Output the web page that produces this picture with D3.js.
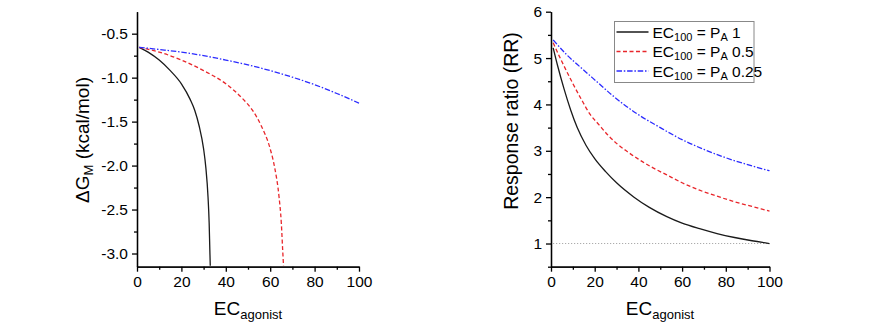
<!DOCTYPE html>
<html>
<head>
<meta charset="utf-8">
<script src="https://cdn.jsdelivr.net/npm/d3@7"></script>
<style>
  body { margin: 0; background: #fff; }
  svg text { font-family: "Liberation Sans", Arial, sans-serif; }
</style>
</head>
<body>
<div id="chart"></div>
<script>
// values
const xMajor = [0, 20, 40, 60, 80, 100];
const xMinor = [10, 30, 50, 70, 90];

// left panel: ΔG_M vs EC_agonist
const dgBlackX = [1, 5, 10, 15, 20, 24, 26, 28, 30, 31, 32, 32.5, 32.8, 33];
const dgBlackY = [-0.655, -0.71, -0.80, -0.92, -1.07, -1.25, -1.37, -1.55, -1.81, -2.02, -2.36, -2.65, -2.95, -3.14];
const dgRedX = [1, 10, 20, 30, 40, 48, 52, 56, 60, 62, 64, 65, 65.6, 66];
const dgRedY = [-0.655, -0.71, -0.80, -0.92, -1.07, -1.25, -1.37, -1.55, -1.81, -2.02, -2.36, -2.65, -2.95, -3.14];
const dgBlueX = [1, 10, 20, 30, 40, 50, 60, 70, 80, 90, 100];
const dgBlueY = [-0.655, -0.68, -0.71, -0.75, -0.80, -0.855, -0.92, -0.995, -1.08, -1.18, -1.29];
const dgMajor = [-0.5, -1.0, -1.5, -2.0, -2.5, -3.0];
const dgMinor = [-0.75, -1.25, -1.75, -2.25, -2.75];

// right panel: response ratio vs EC_agonist
const rrBlackX = [1, 3, 6, 9, 12, 16, 20, 25, 30, 38, 45, 53, 60, 68, 76, 84, 92, 100];
const rrBlackY = [5.22, 4.84, 4.33, 3.88, 3.50, 3.12, 2.83, 2.55, 2.31, 2.0, 1.78, 1.58, 1.44, 1.32, 1.215, 1.13, 1.06, 1.0];
const rrRedX = [1, 4, 7, 10, 14, 18, 22, 26, 30, 35, 40, 46, 53, 60, 68, 76, 84, 92, 100];
const rrRedY = [5.33, 5.02, 4.73, 4.45, 4.10, 3.78, 3.56, 3.34, 3.16, 2.98, 2.82, 2.65, 2.48, 2.31, 2.15, 2.02, 1.90, 1.80, 1.70];
const rrBlueX = [1, 7, 14, 21, 29, 39, 50, 60, 70, 80, 90, 100];
const rrBlueY = [5.39, 5.08, 4.78, 4.49, 4.16, 3.81, 3.50, 3.24, 3.03, 2.85, 2.70, 2.57];
const rrMajor = [1, 2, 3, 4, 5, 6];
const rrMinor = [0.5, 1.5, 2.5, 3.5, 4.5, 5.5];
const refLine = [1, 100];

const legendLabels = ["1", "0.5", "0.25"];

const W = 870, H = 327;
const svg = d3.select("#chart").append("svg").attr("width", W).attr("height", H);

const styles = [
  { color: "#1a1a1a", dash: null },
  { color: "#e8262b", dash: "4,2.5" },
  { color: "#2b2bff", dash: "5.5,1.8,1.5,1.8" }
];

function drawAxes(g, x, y, yMajor, yMinor, yFmt) {
  g.append("g").attr("transform", `translate(0,${y.range()[0]})`)
    .call(d3.axisBottom(x).tickValues(xMajor).tickSize(5).tickSizeOuter(0).tickPadding(4).tickFormat(d => d));
  g.append("g").attr("transform", `translate(0,${y.range()[0]})`)
    .call(d3.axisBottom(x).tickValues(xMinor).tickSize(3).tickSizeOuter(0).tickFormat(""));
  g.append("g").attr("transform", `translate(${x.range()[0]},0)`)
    .call(d3.axisLeft(y).tickValues(yMajor).tickSize(5).tickSizeOuter(0).tickPadding(4).tickFormat(yFmt));
  g.append("g").attr("transform", `translate(${x.range()[0]},0)`)
    .call(d3.axisLeft(y).tickValues(yMinor).tickSize(3).tickSizeOuter(0).tickFormat(""));
  g.selectAll(".domain, .tick line").attr("stroke", "#000").attr("stroke-width", 1.3);
  g.selectAll(".tick text").attr("font-size", 15.5).attr("fill", "#000")
    .attr("font-family", "'Liberation Sans', Arial, sans-serif");
}

function drawLines(g, x, y, series) {
  const line = d3.line().x(d => x(d[0])).y(d => y(d[1])).curve(d3.curveMonotoneX);
  series.forEach((s, i) => {
    const pts = s[0].map((v, j) => [v, s[1][j]]);
    g.append("path").datum(pts)
      .attr("d", line)
      .attr("fill", "none")
      .attr("stroke", styles[i].color)
      .attr("stroke-width", 1.3)
      .attr("stroke-dasharray", styles[i].dash);
  });
}

function xTitle(g, cx, cy) {
  const t = g.append("text").attr("x", cx).attr("y", cy).attr("text-anchor", "middle")
    .attr("font-size", 19).attr("fill", "#000");
  t.append("tspan").text("EC");
  t.append("tspan").attr("font-size", 13).attr("dy", 4).text("agonist");
}

// ----- left panel -----
const left = svg.append("g");
const xL = d3.scaleLinear().domain([0, 100]).range([137, 359]);
const yL = d3.scaleLinear().domain([-3.15, -0.25]).range([266.7, 11.7]);
drawLines(left, xL, yL, [[dgBlackX, dgBlackY], [dgRedX, dgRedY], [dgBlueX, dgBlueY]]);
drawAxes(left, xL, yL, dgMajor, dgMinor, d => d.toFixed(1));
xTitle(left, 248, 315);
const ytL = left.append("text").attr("transform", "translate(89,140) rotate(-90)")
  .attr("text-anchor", "middle").attr("font-size", 19).attr("fill", "#000");
ytL.append("tspan").text("ΔG");
ytL.append("tspan").attr("font-size", 13).attr("dy", 4).text("M");
ytL.append("tspan").attr("dy", -4).text(" (kcal/mol)");

// ----- right panel -----
const right = svg.append("g");
const xR = d3.scaleLinear().domain([0, 100]).range([551, 769.5]);
const yR = d3.scaleLinear().domain([0.5, 6]).range([266.7, 11.7]);
right.append("path").datum(refLine)
  .attr("d", d3.line().x(d => xR(d)).y(() => yR(1)))
  .attr("stroke", "#999").attr("stroke-width", 1).attr("stroke-dasharray", "1,2");
drawLines(right, xR, yR, [[rrBlackX, rrBlackY], [rrRedX, rrRedY], [rrBlueX, rrBlueY]]);
drawAxes(right, xR, yR, rrMajor, rrMinor, d => d);
xTitle(right, 660, 315);
right.append("text").attr("transform", "translate(518,121) rotate(-90)")
  .attr("text-anchor", "middle").attr("font-size", 19.5).attr("fill", "#000")
  .text("Response ratio (RR)");

// legend
const lg = right.append("g").attr("transform", "translate(614.5,21.5)");
lg.append("rect").attr("width", 139.5).attr("height", 61)
  .attr("fill", "#fff").attr("stroke", "#888").attr("stroke-width", 1);
legendLabels.forEach((lab, i) => {
  const yy = 10.5 + i * 19.5;
  lg.append("line").attr("x1", 2).attr("x2", 34).attr("y1", yy).attr("y2", yy)
    .attr("stroke", styles[i].color).attr("stroke-width", 1.3)
    .attr("stroke-dasharray", styles[i].dash);
  const t = lg.append("text").attr("x", 38).attr("y", yy + 5.5).attr("font-size", 15.5).attr("fill", "#000");
  t.append("tspan").text("EC");
  t.append("tspan").attr("font-size", 11).attr("dy", 3).text("100");
  t.append("tspan").attr("dy", -3).text(" = P");
  t.append("tspan").attr("font-size", 11).attr("dy", 3).text("A");
  t.append("tspan").attr("dy", -3).text(" " + lab);
});
</script>
</body>
</html>
